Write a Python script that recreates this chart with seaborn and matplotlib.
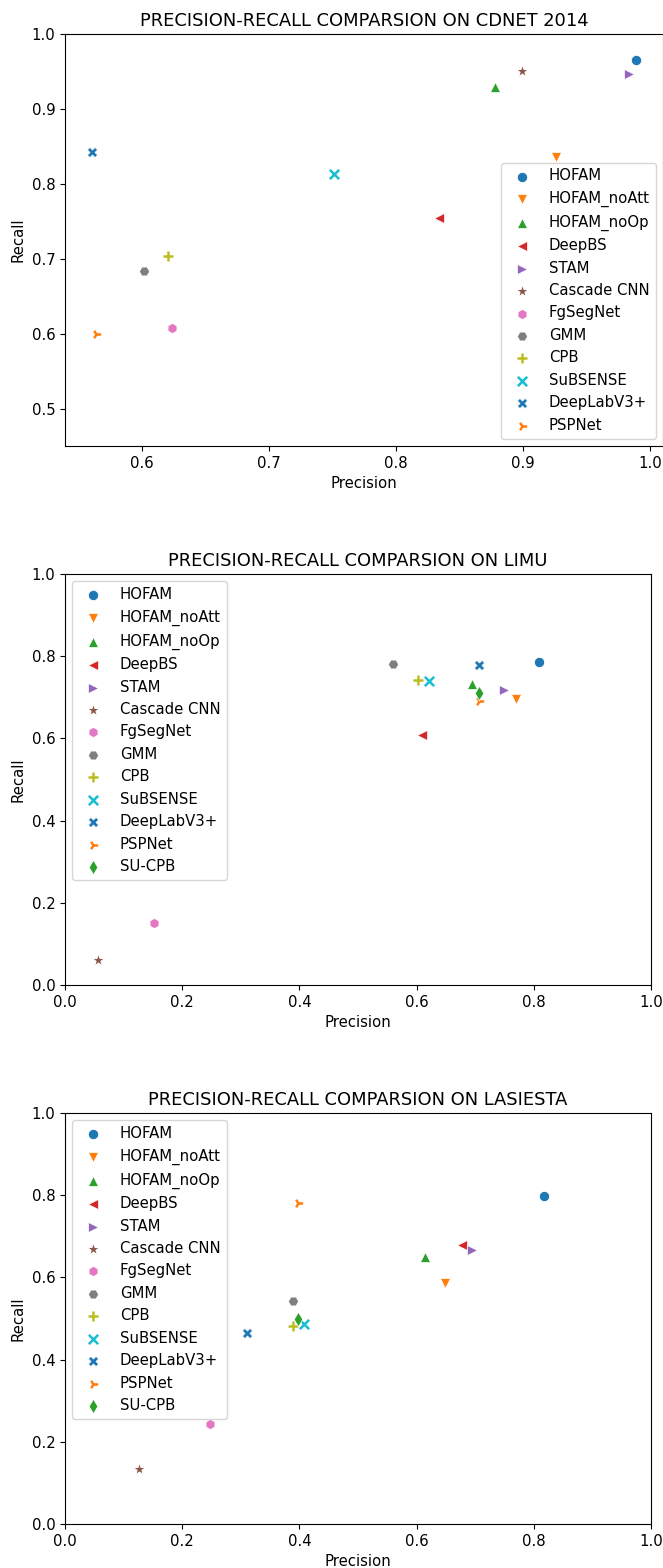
import seaborn as sns
import matplotlib.pyplot as plt

plt.rcParams['font.size'] = 10.7

# Methods, colours and markers (shared by the three panels)
methods = ['HOFAM', 'HOFAM_noAtt', 'HOFAM_noOp', 'DeepBS', 'STAM', 'Cascade CNN',
           'FgSegNet', 'GMM', 'CPB', 'SuBSENSE', 'DeepLabV3+', 'PSPNet', 'SU-CPB']
markers = ['o', 'v', '^', '<', '>', '*', 'h', 'H', '+', 'x', 'X', '4', 'd']
palette = sns.color_palette('tab10', 10)
colors = [palette[i % 10] for i in range(len(methods))]

# CDNET 2014 (no SU-CPB)
cdnet_precision = [0.989, 0.926, 0.878, 0.834, 0.984, 0.899, 0.624, 0.602, 0.621, 0.751, 0.561, 0.564]
cdnet_recall = [0.965, 0.836, 0.929, 0.754, 0.946, 0.950, 0.607, 0.684, 0.704, 0.813, 0.843, 0.599]

# LIMU
limu_precision = [0.809, 0.769, 0.694, 0.609, 0.749, 0.057, 0.152, 0.559, 0.603, 0.621, 0.706, 0.707, 0.706]
limu_recall = [0.786, 0.696, 0.733, 0.608, 0.718, 0.060, 0.150, 0.782, 0.741, 0.740, 0.779, 0.691, 0.710]

# LASIESTA
lasiesta_precision = [0.818, 0.648, 0.614, 0.678, 0.694, 0.126, 0.247, 0.389, 0.389, 0.407, 0.311, 0.397, 0.397]
lasiesta_recall = [0.798, 0.587, 0.649, 0.679, 0.667, 0.133, 0.244, 0.543, 0.482, 0.486, 0.465, 0.780, 0.500]

W, H = 663, 1568
fig = plt.figure(figsize=(W / 100, H / 100), dpi=100)


def px_axes(left, top, right, bottom):
    return fig.add_axes([left / W, 1 - bottom / H, (right - left) / W, (bottom - top) / H])


panels = [
    ('PRECISION-RECALL COMPARSION ON CDNET 2014', cdnet_precision, cdnet_recall,
     (65, 34, 663, 446), 'lower right'),
    ('PRECISION-RECALL COMPARSION ON LIMU', limu_precision, limu_recall,
     (65, 574, 651, 985), 'upper left'),
    ('PRECISION-RECALL COMPARSION ON LASIESTA', lasiesta_precision, lasiesta_recall,
     (65, 1113, 651, 1524), 'upper left'),
]

for idx, (title, prec, rec, box, loc) in enumerate(panels):
    ax = px_axes(*box)
    for i in range(len(prec)):
        m = markers[i]
        if m in ('+', 'x', '4'):
            # line-art markers: smaller but with a thicker stroke
            sns.scatterplot(x=[prec[i]], y=[rec[i]], marker=m, color=colors[i],
                            s=45, linewidth=1.8, label=methods[i], ax=ax)
        else:
            size = 95 if m == '*' else 55
            sns.scatterplot(x=[prec[i]], y=[rec[i]], marker=m, color=colors[i],
                            s=size, label=methods[i], ax=ax)
    if idx == 0:
        ax.set_ylim(0.45, 1.0)
    else:
        ax.set_xlim(0, 1)
        ax.set_ylim(0, 1)
    ax.set_title(title)
    ax.set_xlabel('Precision')
    ax.set_ylabel('Recall')
    ax.legend(loc=loc)

fig.savefig('out.png', dpi=100)
